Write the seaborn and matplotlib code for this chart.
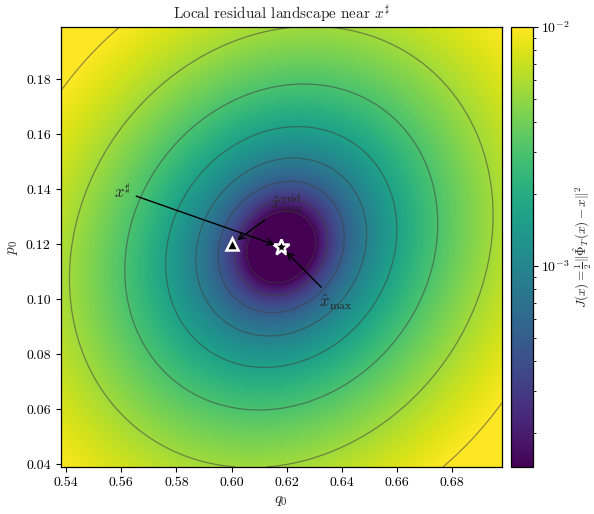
import numpy as np
import matplotlib
matplotlib.use("Agg")
import matplotlib.pyplot as plt
from matplotlib.colors import LogNorm
import seaborn as sns

# Reference point x# and grid optimum
x_sharp = [0.618, 0.119]
x_grid_max = [0.600, 0.120]

# Local quadratic model of the residual around x#: J = 1/2 d^T H d + floor
hess = [[1.89, -0.2595],
        [-0.2595, 1.7316]]
residual_floor = 1e-7

# Window half-width and colour range
half_width = 0.08
j_min, j_max = 1.44e-4, 1.0e-2
n_levels = 8

x_ticks = [0.54, 0.56, 0.58, 0.60, 0.62, 0.64, 0.66, 0.68]
y_ticks = [0.04, 0.06, 0.08, 0.10, 0.12, 0.14, 0.16, 0.18]

sns.set_style("ticks")
plt.rcParams.update({
    "font.family": ["cmr10", "DejaVu Serif"],
    "mathtext.fontset": "cm",
    "axes.formatter.use_mathtext": True,
    "font.size": 10,
    "axes.edgecolor": "black",
    "xtick.color": "black",
    "ytick.color": "black",
    "axes.linewidth": 0.9,
})

q = np.linspace(x_sharp[0] - half_width, x_sharp[0] + half_width, 441)
p = np.linspace(x_sharp[1] - half_width, x_sharp[1] + half_width, 441)
Q, P = np.meshgrid(q, p)
dq, dp = Q - x_sharp[0], P - x_sharp[1]
H = np.array(hess)
J = 0.5 * (H[0, 0] * dq**2 + 2 * H[0, 1] * dq * dp + H[1, 1] * dp**2) + residual_floor

fig = plt.figure(figsize=(5.94, 5.14), dpi=100)
ax = fig.add_axes([0.102, 0.0914, 0.743, 0.8561])
cax = fig.add_axes([0.8603, 0.0914, 0.037, 0.8561])

cmap = sns.color_palette("viridis", as_cmap=True)
norm = LogNorm(vmin=j_min, vmax=j_max)
mesh = ax.pcolormesh(Q, P, J, cmap=cmap, norm=norm, shading="nearest", rasterized=True)
levels = np.geomspace(j_min, j_max, n_levels)
ax.contour(Q, P, J, levels=levels, colors="0.25", alpha=0.55, linewidths=0.9)

ax.set_xlim(q[0], q[-1])
ax.set_ylim(p[0], p[-1])
ax.set_xticks(x_ticks)
ax.set_yticks(y_ticks)
ax.set_xticklabels([f"{v:.2f}" for v in x_ticks])
ax.set_yticklabels([f"{v:.2f}" for v in y_ticks])

ax.plot(*x_grid_max, marker="^", ms=8, mfc="black", mec="white", mew=1.8, ls="none", zorder=5)
ax.plot(*x_sharp, marker="*", ms=12, mfc="black", mec="white", mew=1.8, ls="none", zorder=5)

arrow = dict(arrowstyle="->", color="black", lw=1.0, shrinkA=2, shrinkB=5)
ax.annotate(r"$x^\sharp$", xy=x_sharp, xytext=(0.5603, 0.1393),
            ha="center", va="center", fontsize=12, arrowprops=arrow, zorder=6)
ax.annotate(r"$\hat{x}^{\mathrm{grid}}_{\max}$", xy=x_grid_max, xytext=(0.6202, 0.1348),
            ha="center", va="center", fontsize=12, arrowprops=arrow, zorder=6)
ax.annotate(r"$\hat{x}_{\max}$", xy=x_sharp, xytext=(0.6379, 0.0989),
            ha="center", va="center", fontsize=12, arrowprops=arrow, zorder=6)

ax.set_xlabel(r"$q_0$", fontsize=11)
ax.set_ylabel(r"$p_0$", fontsize=11)
ax.set_title(r"Local residual landscape near $x^\sharp$", fontsize=11)

cb = fig.colorbar(mesh, cax=cax)
cb.ax.tick_params(pad=2)
cb.set_label(r"$J(x)=\frac{1}{2}\|\hat{\Phi}_T(x)-x\|^2$", fontsize=9.5, labelpad=2)
cb.outline.set_linewidth(0.9)

fig.savefig("out.png", dpi=100)
